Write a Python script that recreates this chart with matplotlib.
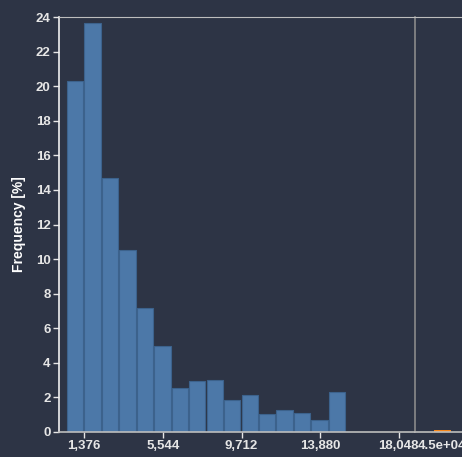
import matplotlib
matplotlib.use("Agg")
import matplotlib.pyplot as plt
import numpy as np

# Data
bin_start = 450.0
bin_width = 926.22
freq = [20.27, 23.68, 14.71, 10.5, 7.15, 5.0, 2.52, 2.93, 2.99, 1.84,
        2.12, 1.03, 1.30, 1.09, 0.68, 2.29]
x_ticks = [1376, 5544, 9712, 13880, 18048]
x_tick_labels = ["1,376", "5,544", "9,712", "13,880", "18,048"]
y_ticks = list(range(0, 25, 2))
outlier_value = 45000
outlier_freq = 0.1
outlier_label = "4.5e+04"

BG = "#2d3445"
TXT = "#e6e6e6"
FS = 9.5
plt.rcParams["font.family"] = ["Liberation Sans", "DejaVu Sans"]

W, H = 462, 457
fig = plt.figure(figsize=(W / 100, H / 100), dpi=100, facecolor=BG)

x0, x1, yb, yt = 59, 415, 432, 17
ax = fig.add_axes([x0 / W, (H - yb) / H, (x1 - x0) / W, (yb - yt) / H])
ax.set_facecolor(BG)

lefts = bin_start + bin_width * np.arange(len(freq))
ax.bar(lefts + 0.5, freq, width=bin_width - 60, align="edge",
       color="#4c78a8", edgecolor="#3c628c", linewidth=0.8)
ax.set_xlim(34, 18912)
ax.set_ylim(0, 24)
ax.set_xticks(x_ticks)
ax.set_xticklabels(x_tick_labels)
ax.set_yticks(y_ticks)
for lab in ax.get_xticklabels() + ax.get_yticklabels():
    lab.set_fontweight("bold")
ax.tick_params(axis="both", colors=TXT, labelsize=FS, length=4, width=1)
ax.tick_params(axis="x", pad=2)
ax.tick_params(axis="y", pad=2)
ax.spines["left"].set_color("#f0f0f0")
ax.spines["left"].set_linewidth(1.2)
ax.spines["bottom"].set_color("#bdbdbd")
ax.spines["top"].set_color("#bdbdbd")
ax.spines["right"].set_color("#8a8a8a")
ax.spines["right"].set_linewidth(1.2)
ax.spines["bottom"].set_linewidth(1.2)
ax.set_ylabel("Frequency [%]", color="#ffffff", fontsize=10, fontweight="bold", labelpad=7)

# outlier panel
ax2 = fig.add_axes([x1 / W, (H - yb) / H, 60 / W, (yb - yt) / H])
ax2.set_facecolor(BG)
ax2.bar([outlier_value], [outlier_freq], width=1.0, color="#f58518")
ax2.set_xlim(outlier_value - 1.6, outlier_value + 1.9)
ax2.set_ylim(0, 24)
ax2.set_yticks([])
ax2.set_xticks([outlier_value])
ax2.set_xticklabels([outlier_label])
for lab in ax2.get_xticklabels():
    lab.set_fontweight("bold")
ax2.tick_params(axis="x", colors=TXT, labelsize=FS, length=0, pad=6)
ax2.spines["left"].set_visible(False)
ax2.spines["right"].set_visible(False)
ax2.spines["bottom"].set_color("#bdbdbd")
ax2.spines["bottom"].set_linewidth(1.2)
ax2.spines["top"].set_color("#bdbdbd")
ax.set_zorder(3)
ax2.set_zorder(1)

fig.savefig("out.png", dpi=100, facecolor=BG)
